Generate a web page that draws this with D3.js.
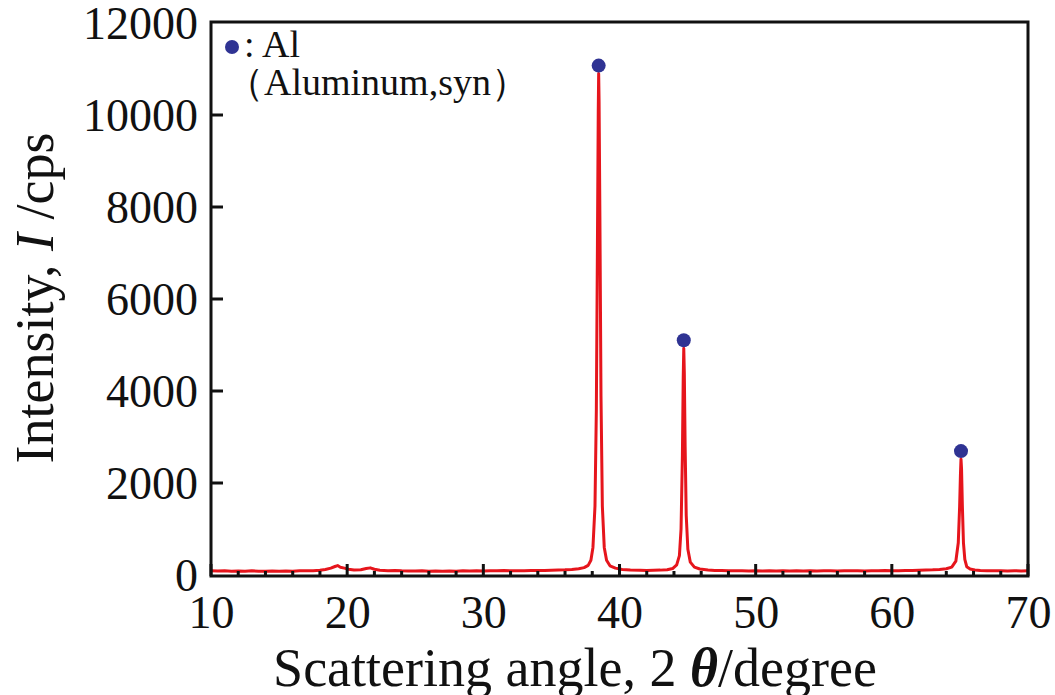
<!DOCTYPE html>
<html>
<head>
<meta charset="utf-8">
<script src="https://cdn.jsdelivr.net/npm/d3@7"></script>
<style>
  body { margin: 0; background: #fff; }
  svg text { font-family: "Liberation Serif", "Times New Roman", serif; fill: #111; }
</style>
</head>
<body>
<div id="chart"></div>
<script>
// diffraction pattern (2theta in degree, intensity in cps)
var angles = [10.0, 10.5, 11.0, 11.5, 12.0, 12.5, 13.0, 13.5, 14.0, 14.5, 15.0, 15.5, 16.0, 16.5, 17.0, 17.5,
  18.0, 18.4, 18.8, 19.1, 19.3, 19.5, 19.8, 20.1, 20.5, 21.0, 21.4, 21.7, 22.0, 22.4, 23.0, 23.5, 24.0, 24.5,
  25.0, 25.5, 26.0, 26.5, 27.0, 27.5, 28.0, 28.5, 29.0, 29.5, 30.0, 30.5, 31.0, 31.5, 32.0, 32.5, 33.0, 33.5,
  34.0, 34.5, 35.0, 35.5, 36.0, 36.5, 37.0, 37.4, 37.7, 37.9, 38.05, 38.2, 38.3, 38.38, 38.44, 38.47, 38.5,
  38.56, 38.64, 38.74, 38.88, 39.05, 39.3, 39.7, 40.2, 40.8, 41.5, 42.0, 42.5, 43.0, 43.5, 43.9, 44.2, 44.4,
  44.52, 44.62, 44.68, 44.72, 44.76, 44.82, 44.9, 45.02, 45.2, 45.5, 45.9, 46.5, 47.0, 47.5, 48.0, 48.5,
  49.0, 49.5, 50.0, 50.5, 51.0, 51.5, 52.0, 52.5, 53.0, 53.5, 54.0, 54.5, 55.0, 55.5, 56.0, 56.5, 57.0,
  57.5, 58.0, 58.5, 59.0, 59.5, 60.0, 60.5, 61.0, 61.5, 62.0, 62.5, 63.0, 63.5, 64.0, 64.4, 64.7, 64.88,
  64.98, 65.04, 65.08, 65.12, 65.18, 65.26, 65.36, 65.5, 65.75, 66.1, 66.5, 67.0, 67.5, 68.0, 68.5, 69.0,
  69.5, 70.0];
var intensities = [95, 85, 90, 80, 88, 82, 90, 84, 80, 86, 82, 88, 84, 90, 92, 95,
  105, 120, 150, 185, 205, 170, 150, 125, 110, 115, 140, 155, 125, 105, 95, 100, 92, 88,
  85, 90, 84, 88, 82, 86, 84, 90, 86, 92, 88, 94, 90, 96, 92, 90, 94, 98,
  96, 100, 104, 108, 112, 120, 135, 160, 210, 320, 600, 1500, 3600, 7200, 10100, 10900, 10300,
  7800, 3900, 1500, 600, 320, 200, 150, 120, 110, 104, 100, 102, 106, 115, 140, 220, 420,
  1000, 2600, 4300, 4930, 4400, 2800, 1300, 560, 280, 170, 130, 110, 100, 96, 92, 90,
  94, 88, 92, 86, 90, 88, 92, 86, 90, 88, 92, 86, 90, 92, 88, 94, 90,
  92, 88, 94, 90, 96, 92, 95, 98, 100, 104, 108, 112, 120, 135, 170, 300, 700,
  1500, 2200, 2520, 2300, 1500, 700, 340, 180, 130, 110, 100, 95, 92, 90, 88, 92,
  88, 90];
// peaks marked with the Al symbol
var peakAngles = [38.47, 44.72, 65.08];
var peakHeights = [10900, 4930, 2520];
var xTicks = [10, 20, 30, 40, 50, 60, 70];
var yTicks = [0, 2000, 4000, 6000, 8000, 10000, 12000];

var W = 1055, H = 695;
var mLeft = 211, mRight = 1028, mTop = 22, mBottom = 576;

var svg = d3.select("#chart").append("svg").attr("width", W).attr("height", H);

var x = d3.scaleLinear().domain([10, 70]).range([mLeft, mRight]);
var y = d3.scaleLinear().domain([0, 12000]).range([mBottom - 1, mTop + 1]);

var red = "#e6151c", blue = "#2f3393";

// spectrum
var line = d3.line()
  .x(function (d) { return x(d[0]); })
  .y(function (d) { return y(d[1]); });
var pts = angles.map(function (a, i) { return [a, intensities[i]]; });
svg.append("path")
  .datum(pts)
  .attr("d", line)
  .attr("fill", "none")
  .attr("stroke", red)
  .attr("stroke-width", 3)
  .attr("stroke-linejoin", "round");

// markers above the peaks
svg.selectAll("circle.peak")
  .data(peakAngles)
  .enter().append("circle")
  .attr("class", "peak")
  .attr("cx", function (d) { return x(d); })
  .attr("cy", function (d, i) { return y(peakHeights[i]) - 8; })
  .attr("r", 7)
  .attr("fill", blue);

// frame
svg.append("rect")
  .attr("x", mLeft).attr("y", mTop)
  .attr("width", mRight - mLeft).attr("height", mBottom - mTop)
  .attr("fill", "none").attr("stroke", "#111").attr("stroke-width", 3);

// x axis: major ticks every 10, minor every 2, pointing inward
var xMinor = d3.range(10, 70.1, 2);
svg.selectAll("line.xminor").data(xMinor).enter().append("line")
  .attr("x1", function (d) { return x(d); }).attr("x2", function (d) { return x(d); })
  .attr("y1", mBottom).attr("y2", function (d) { return d % 10 === 0 ? mBottom - 12 : mBottom - 5; })
  .attr("stroke", "#111").attr("stroke-width", 3);

var xAxis = d3.axisBottom(x).tickValues(xTicks).tickFormat(d3.format("d")).tickSize(0).tickPadding(0);
var gx = svg.append("g").attr("transform", "translate(0," + mBottom + ")").call(xAxis);
gx.select(".domain").remove();
gx.selectAll("text")
  .attr("y", 52).attr("dy", 0)
  .style("font-size", "46px")
  .style("font-family", "Liberation Serif, serif")
  .attr("fill", "#111");

// y axis
var yAxis = d3.axisLeft(y).tickValues(yTicks).tickFormat(d3.format("d")).tickSize(0).tickPadding(0);
var gy = svg.append("g").attr("transform", "translate(" + mLeft + ",0)").call(yAxis);
gy.select(".domain").remove();
gy.selectAll("text")
  .attr("x", -13).attr("dy", "0.34em")
  .style("font-size", "46px")
  .style("font-family", "Liberation Serif, serif")
  .attr("fill", "#111");
svg.selectAll("line.ytick").data(yTicks.slice(1, -1)).enter().append("line")
  .attr("x1", mLeft).attr("x2", mLeft + 12)
  .attr("y1", function (d) { return y(d); }).attr("y2", function (d) { return y(d); })
  .attr("stroke", "#111").attr("stroke-width", 3);

// axis titles
var xt = svg.append("text")
  .attr("x", 575).attr("y", 686)
  .attr("text-anchor", "middle")
  .style("font-size", "54px");
xt.append("tspan").text("Scattering angle, 2 ");
xt.append("tspan").text("θ").style("font-style", "italic").style("font-weight", "bold");
xt.append("tspan").text("/degree");

var yt = svg.append("text")
  .attr("transform", "translate(53,298) rotate(-90)")
  .attr("text-anchor", "middle")
  .style("font-size", "54px");
yt.append("tspan").text("Intensity, ");
yt.append("tspan").text("I").style("font-style", "italic");
yt.append("tspan").text(" /cps");

// legend
svg.append("circle").attr("cx", 232).attr("cy", 47).attr("r", 7).attr("fill", blue);
svg.append("text").attr("x", 244).attr("y", 57).style("font-size", "38px").text(": Al");
svg.append("text").attr("x", 226).attr("y", 95).style("font-size", "38px").text("（Aluminum,syn）");
</script>
</body>
</html>
